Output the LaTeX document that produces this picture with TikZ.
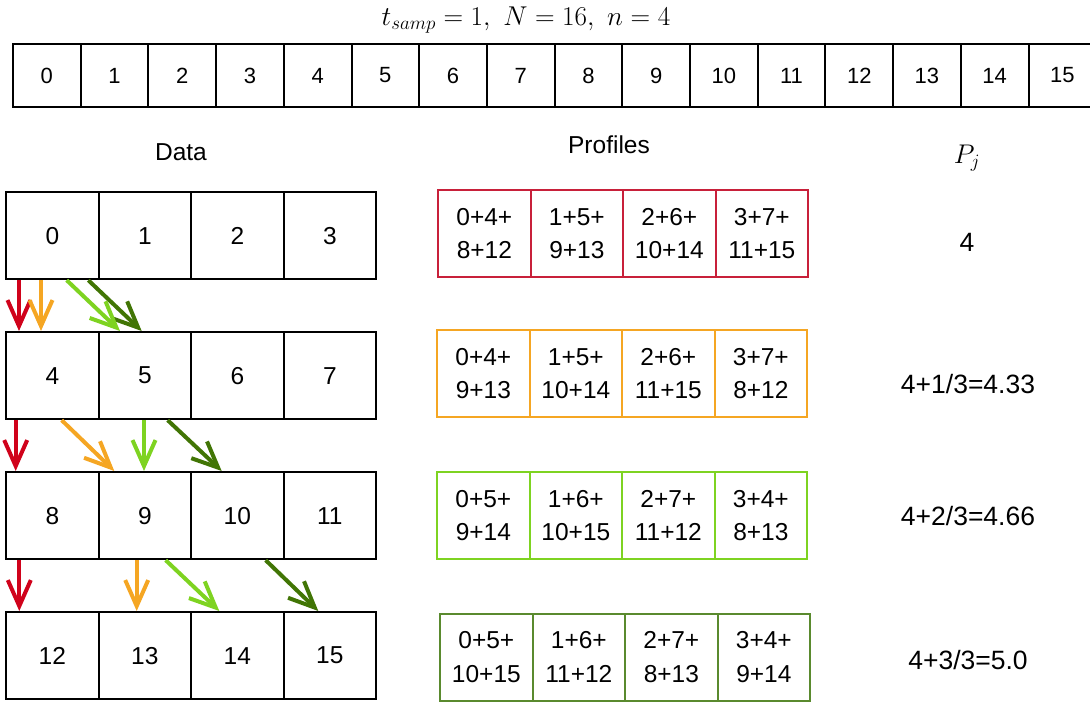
\RequirePackage{fix-cm}
\documentclass[tikz,border=0pt]{standalone}
\usepackage[no-math]{fontspec}
\newfontfamily\arial{Liberation Sans}
\usetikzlibrary{arrows.meta}
\definecolor{cred}{HTML}{D0021B}
\definecolor{corange}{HTML}{F5A623}
\definecolor{clgreen}{HTML}{7ED321}
\definecolor{cdgreen}{HTML}{417505}
\definecolor{cdgreenbox}{HTML}{5A8A2E}
\definecolor{credbox}{HTML}{C8203A}
\tikzset{
  topbox/.style={draw, line width=2pt, minimum width=67.7pt, minimum height=63pt, anchor=north west, inner sep=0pt, font=\arial\fontsize{22}{26}\selectfont},
  dbox/.style={draw, line width=2.2pt, minimum width=92.5pt, minimum height=87pt, anchor=north west, inner sep=0pt, font=\arial\fontsize{24.5}{28}\selectfont},
  pbox/.style={draw=#1, line width=2.2pt, minimum width=92.5pt, minimum height=87pt, anchor=north west, inner sep=0pt, align=center, font=\arial\fontsize{24.5}{33.5}\selectfont},
  hdr/.style={font=\arial\fontsize{24.5}{28}\selectfont},
  pval/.style={font=\arial\fontsize{26.5}{30}\selectfont},
  arr/.style={draw=#1, line width=4pt, -{Straight Barb[length=26pt,width=23pt]}}
}
\begin{document}
\begin{tikzpicture}[x=1pt,y=-1pt]
\useasboundingbox (0,0) rectangle (1090,702);
% title
\node[anchor=base, font=\fontsize{27.2}{31}\selectfont] (title) at (526,25) {$t_{samp}=1,\ N=16,\ n=4$};
% top row
\foreach \i in {0,...,15} {
  \node[topbox] (t\i) at ({12+67.7*\i},43) {\i};
}
% headers
\node[hdr] (hdata) at (181,152) {Data};
\node[hdr] (hprof) at (609,145) {Profiles};
\node[anchor=base, font=\fontsize{27}{31}\selectfont] (hpj) at (967,163) {$P_j$};
% data grid
\foreach \r in {0,...,3} {
  \foreach \c in {0,...,3} {
    \pgfmathtruncatemacro{\n}{4*\r+\c}
    \node[dbox] (d\n) at ({5+92.5*\c},{191+140*\r}) {\n};
  }
}
% profiles
\node[pbox=credbox] (p00) at (437,189) {0+4+\\8+12};
\node[pbox=credbox] (p01) at (529.5,189) {1+5+\\9+13};
\node[pbox=credbox] (p02) at (622,189) {2+6+\\10+14};
\node[pbox=credbox] (p03) at (714.5,189) {3+7+\\11+15};
\node[pbox=corange] (p10) at (436,329) {0+4+\\9+13};
\node[pbox=corange] (p11) at (528.5,329) {1+5+\\10+14};
\node[pbox=corange] (p12) at (621,329) {2+6+\\11+15};
\node[pbox=corange] (p13) at (713.5,329) {3+7+\\8+12};
\node[pbox=clgreen] (p20) at (436,471) {0+5+\\9+14};
\node[pbox=clgreen] (p21) at (528.5,471) {1+6+\\10+15};
\node[pbox=clgreen] (p22) at (621,471) {2+7+\\11+12};
\node[pbox=clgreen] (p23) at (713.5,471) {3+4+\\8+13};
\node[pbox=cdgreenbox] (p30) at (439,612.5) {0+5+\\10+15};
\node[pbox=cdgreenbox] (p31) at (531.5,612.5) {1+6+\\11+12};
\node[pbox=cdgreenbox] (p32) at (624,612.5) {2+7+\\8+13};
\node[pbox=cdgreenbox] (p33) at (716.5,612.5) {3+4+\\9+14};
% P_j values
\node[pval] (v0) at (967,242) {4};
\node[pval] (v1) at (968,384) {4+1/3=4.33};
\node[pval] (v2) at (968,516) {4+2/3=4.66};
\node[pval] (v3) at (968,660) {4+3/3=5.0};
% arrows row 1 -> 2
\draw[arr=cred] ([xshift=14pt]d0.south west) -- ([xshift=14pt]d4.north west);
\draw[arr=corange] ([xshift=36pt]d0.south west) -- ([xshift=36pt]d4.north west);
\draw[arr=cdgreen] ([xshift=83.3pt]d0.south west) -- ([xshift=44.2pt]d5.north west);
\draw[arr=clgreen] ([xshift=61.7pt]d0.south west) -- ([xshift=22.5pt]d5.north west);
% arrows row 2 -> 3
\draw[arr=cred] ([xshift=10.7pt]d4.south west) -- ([xshift=10.7pt]d8.north west);
\draw[arr=corange] ([xshift=56.7pt]d4.south west) -- ([xshift=16.8pt]d9.north west);
\draw[arr=clgreen] ([xshift=46.5pt]d5.south west) -- ([xshift=46.5pt]d9.north west);
\draw[arr=cdgreen] ([xshift=70.2pt]d5.south west) -- ([xshift=31.7pt]d10.north west);
% arrows row 3 -> 4
\draw[arr=cred] ([xshift=14.3pt]d8.south west) -- ([xshift=14.3pt]d12.north west);
\draw[arr=corange] ([xshift=39.2pt]d9.south west) -- ([xshift=39.2pt]d13.north west);
\draw[arr=clgreen] ([xshift=68.2pt]d9.south west) -- ([xshift=29.3pt]d14.north west);
\draw[arr=cdgreen] ([xshift=75.7pt]d10.south west) -- ([xshift=35.8pt]d15.north west);
\end{tikzpicture}
\end{document}
